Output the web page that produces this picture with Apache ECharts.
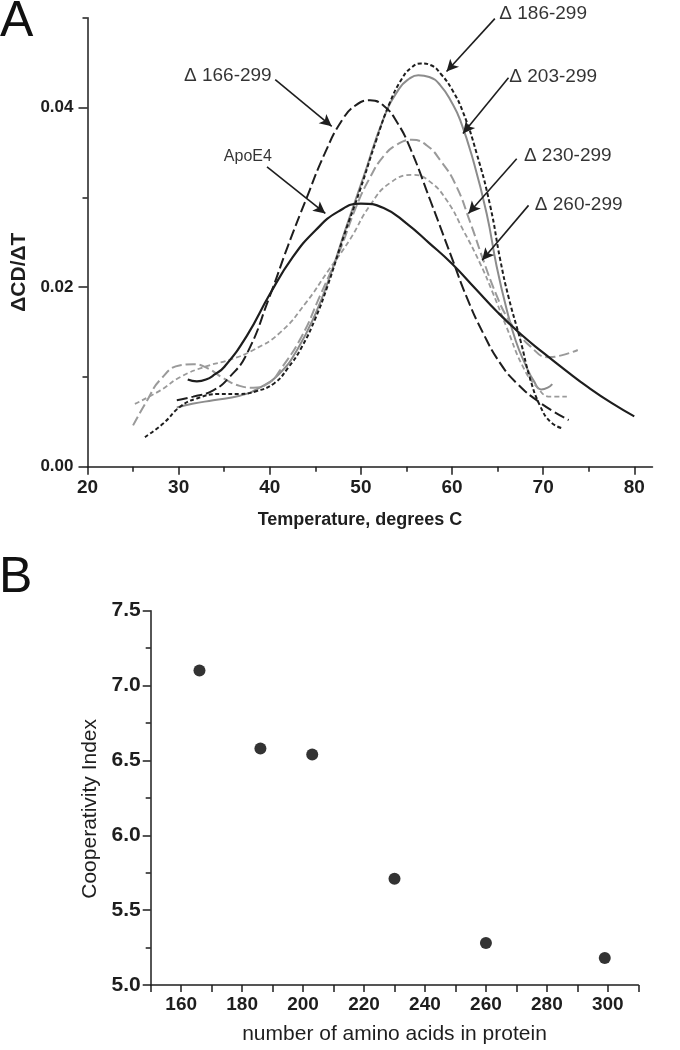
<!DOCTYPE html>
<html><head><meta charset="utf-8">
<script src="https://cdn.jsdelivr.net/npm/echarts@6/dist/echarts.min.js"></script>
<style>html,body{margin:0;padding:0;background:#fff}#c{width:680px;height:1050px}</style>
</head><body><div id="c"></div>
<script>
// ---------- Panel A data: dCD/dT vs temperature ----------
const apoE4 = [[31,0.0097],[32,0.0095],[33,0.0097],[34,0.0103],[35,0.0111],[37.5,0.0146],[40,0.0192],[42.5,0.0233],[45,0.0263],[47.5,0.0284],[50,0.0293],[52.5,0.0288],[55,0.0271],[57.5,0.0249],[60,0.0226],[62.5,0.0199],[65,0.0172],[67.5,0.0148],[70,0.0127],[72.5,0.0107],[75,0.0088],[77.5,0.0071],[80,0.0056]];
const d166 = [[29.8,0.0074],[31.6,0.0078],[33.8,0.0085],[35.6,0.0100],[37.5,0.0126],[40,0.0190],[42,0.0246],[44,0.0298],[46,0.0348],[48,0.0387],[49.5,0.0403],[51,0.0408],[52.5,0.0402],[54,0.0383],[55.4,0.0355],[57.6,0.0297],[60,0.0232],[61.6,0.0189],[63.4,0.0149],[65.3,0.0115],[67.1,0.0093],[69.7,0.0071],[72.8,0.0052]];
const d186 = [[26.3,0.0033],[28.3,0.0048],[30.2,0.0067],[32,0.0076],[34.5,0.0081],[36.7,0.0081],[38.5,0.0084],[40.5,0.0093],[42,0.0110],[43.5,0.0133],[45,0.0165],[46.3,0.0200],[48.1,0.0256],[49.9,0.0308],[51.7,0.0364],[53.2,0.0406],[54.5,0.0432],[55.5,0.0444],[56.6,0.0449],[57.7,0.0447],[58.8,0.0437],[60,0.0420],[61.2,0.0395],[62.7,0.0349],[64.2,0.0290],[65.3,0.0230],[66.2,0.0189],[67.5,0.0141],[68.6,0.0097],[69.7,0.0067],[70.8,0.0050],[72,0.0043]];
const d203 = [[29.8,0.0066],[31.5,0.0070],[33.8,0.0074],[36.7,0.0079],[38.9,0.0088],[41.1,0.0104],[43,0.0130],[45,0.0170],[46.7,0.0215],[48.4,0.0267],[50.3,0.0323],[52.5,0.0388],[54.2,0.0421],[55.3,0.0432],[56.3,0.0436],[57.5,0.0434],[58.7,0.0425],[60,0.0405],[60.9,0.0386],[62.3,0.0342],[63.8,0.0282],[64.9,0.0223],[66,0.0175],[67,0.0140],[68,0.0115],[69,0.0095],[69.8,0.0086],[70.5,0.0088],[71,0.0092]];
const d230 = [[25,0.0046],[26.5,0.0073],[28,0.0097],[30.2,0.0113],[31.6,0.0114],[33.1,0.0110],[35,0.0098],[36.7,0.0090],[38.2,0.0088],[40,0.0094],[41.1,0.0107],[43.5,0.0145],[45.5,0.0190],[47.7,0.0241],[49.5,0.0290],[51,0.0322],[52.5,0.0346],[54,0.0359],[55.6,0.0364],[57.2,0.0358],[58.8,0.0340],[60.4,0.0314],[62,0.0272],[63.5,0.0228],[64.8,0.0193],[66,0.0167],[67.2,0.0150],[68.6,0.0134],[70.5,0.0122],[72,0.0124],[73.8,0.0130]];
const d260 = [[25.2,0.0070],[28,0.0085],[30.2,0.0100],[33.1,0.0112],[35.6,0.0119],[38.2,0.0130],[41.1,0.0149],[44,0.0183],[46.4,0.0218],[48.8,0.0253],[51,0.0291],[53.2,0.0316],[55.8,0.0325],[57.5,0.0318],[59.4,0.0297],[61.2,0.0264],[63.1,0.0226],[64.5,0.0193],[66,0.0155],[67.8,0.0111],[69.3,0.0089],[70.8,0.0078],[72.6,0.0078]];

const curveNames = ['ApoE4','Δ 166-299','Δ 186-299','Δ 203-299','Δ 230-299','Δ 260-299'];
// label anchor positions (data coords) and arrows [from, to]
const labelPos = [[37.6,0.0345],[35.4,0.0435],[70.0,0.0504],[71.1,0.0434],[72.7,0.0346],[73.9,0.0292]];
const arrows = [
  [[39.7,0.0334],[46.1,0.0282]],
  [[40.6,0.0431],[46.8,0.0379]],
  [[64.7,0.0499],[59.4,0.0440]],
  [[66.2,0.0433],[61.2,0.0371]],
  [[67.1,0.0343],[61.8,0.0282]],
  [[68.4,0.0291],[63.3,0.0230]]
];
const xMajorA = [20,30,40,50,60,70,80];
const xMinorA = [25,35,45,55,65,75];
const yMajorA = [0,0.02,0.04];
const yMinorA = [0.01,0.03,0.05];

// ---------- Panel B data ----------
const aaCount = [166,186,203,230,260,299];
const coopIndex = [7.10,6.58,6.54,5.71,5.28,5.18];
const xLabelsB = [160,180,200,220,240,260,280,300];
const yMajorB = [5.0,5.5,6.0,6.5,7.0,7.5];
const yMinorB = [5.25,5.75,6.25,6.75,7.25];

const FF = "'Liberation Sans', Arial, sans-serif";
const INK = '#1e1e1e';
const GRAY = '#8c8c8c';

const chart = echarts.init(document.getElementById('c'), null, {renderer:'canvas'});

function axisBase(extra){
  return Object.assign({
    type:'value', splitLine:{show:false},
    axisLine:{show:true, lineStyle:{color:INK, width:1.5}},
  }, extra);
}
function minorAxis(extra, ticks, len){
  return Object.assign({
    type:'value', splitLine:{show:false},
    axisLine:{show:false}, axisLabel:{show:false},
    axisTick:{show:true, customValues:ticks, length:len, lineStyle:{color:INK, width:1.5}}
  }, extra);
}

const lineStyles = [
  {color:INK, width:2.2, type:'solid'},
  {color:INK, width:2, type:[11,4]},
  {color:INK, width:2, type:[4,2.5]},
  {color:GRAY, width:2, type:'solid'},
  {color:'#9a9a9a', width:2, type:[10,4]},
  {color:'#9a9a9a', width:1.8, type:[5,3]}
];
const curves = [apoE4, d166, d186, d203, d230, d260];

const series = curves.map((d,i)=>({
  type:'line', name:curveNames[i], xAxisIndex:0, yAxisIndex:0,
  data:d, smooth:true, showSymbol:false, symbol:'none',
  lineStyle:lineStyles[i], silent:true, z: 3 + (i>=3?0:1)
}));

series.push({
  type:'scatter', xAxisIndex:0, yAxisIndex:0, clip:false, silent:true,
  symbol:'circle', symbolSize:2, itemStyle:{color:'rgba(0,0,0,0)'},
  data: labelPos.map((p,i)=>({value:p, label:{
    show:true, position:'inside', formatter:curveNames[i],
    fontFamily:FF, fontSize: i===0?16:19, color:'#000'
  }})),
  markLine:{
    silent:true, animation:false,
    symbol:['none','arrow'], symbolSize:[9,12],
    label:{show:false},
    lineStyle:{color:INK, width:1.6, type:'solid'},
    emphasis:{disabled:true},
    data: arrows.map(a=>[{coord:a[0]},{coord:a[1]}])
  },
  z:6
});

series.push({
  type:'scatter', xAxisIndex:2, yAxisIndex:2, silent:true,
  symbol:'circle', symbolSize:12, itemStyle:{color:'#000'},
  data: aaCount.map((x,i)=>[x, coopIndex[i]])
});

chart.setOption({
  animation:false,
  backgroundColor:'#fff',
  textStyle:{fontFamily:FF},
  grid:[
    {left:87.5, top:17.7, width:565, height:449, outerBoundsMode:'none'},
    {left:150.7, top:610.7, width:487.6, height:374.3, outerBoundsMode:'none'}
  ],
  xAxis:[
    axisBase({gridIndex:0, min:20, max:82, position:'bottom',
      axisTick:{show:true, customValues:xMajorA, length:8, lineStyle:{color:INK, width:1.5}},
      axisLabel:{customValues:xMajorA, fontSize:19, fontWeight:'bold', color:INK, margin:12, fontFamily:FF},
      name:'Temperature, degrees C', nameLocation:'middle', nameGap:44,
      nameTextStyle:{fontSize:18, fontWeight:'bold', color:INK, fontFamily:FF, padding:[0,20,0,0]}
    }),
    minorAxis({gridIndex:0, min:20, max:82, position:'bottom'}, xMinorA, 5),
    axisBase({gridIndex:1, min:150, max:310, interval:10, position:'bottom',
      axisTick:{show:true, length:7, lineStyle:{color:INK, width:1.5}},
      axisLabel:{customValues:xLabelsB, fontSize:19, fontWeight:'bold', color:INK, margin:10, fontFamily:FF},
      name:'number of amino acids in protein', nameLocation:'middle', nameGap:39,
      nameTextStyle:{fontSize:21, color:INK, fontFamily:FF}
    })
  ],
  yAxis:[
    axisBase({gridIndex:0, min:0, max:0.05, position:'left',
      axisTick:{show:true, customValues:yMajorA, length:9, lineStyle:{color:INK, width:1.5}},
      axisLabel:{customValues:yMajorA, fontSize:17, fontWeight:'bold', color:INK, margin:14, fontFamily:FF,
        formatter:v=>v.toFixed(2)},
      name:'ΔCD/ΔT', nameLocation:'middle', nameGap:55,
      nameTextStyle:{fontSize:21, fontWeight:'bold', color:INK, fontFamily:FF, padding:[0,60,0,0]}
    }),
    minorAxis({gridIndex:0, min:0, max:0.05, position:'left'}, yMinorA, 5),
    axisBase({gridIndex:1, min:5, max:7.5, position:'left',
      axisTick:{show:true, customValues:yMajorB, length:8, lineStyle:{color:INK, width:1.5}},
      axisLabel:{customValues:yMajorB, fontSize:21, fontWeight:'bold', color:INK, margin:10, fontFamily:FF,
        formatter:v=>v.toFixed(1)},
      name:'Cooperativity Index', nameLocation:'middle', nameGap:47,
      nameTextStyle:{fontSize:21, color:INK, fontFamily:FF, padding:[0,22,0,0]}
    }),
    minorAxis({gridIndex:1, min:5, max:7.5, position:'left'}, yMinorB, 5)
  ],
  graphic:[
    {type:'text', left:0, top:-3, style:{text:'A', font:"50px 'Liberation Sans', Arial, sans-serif", fill:'#111'}},
    {type:'text', left:-1, top:553, style:{text:'B', font:"50px 'Liberation Sans', Arial, sans-serif", fill:'#111'}}
  ],
  series: series
});
</script></body></html>
